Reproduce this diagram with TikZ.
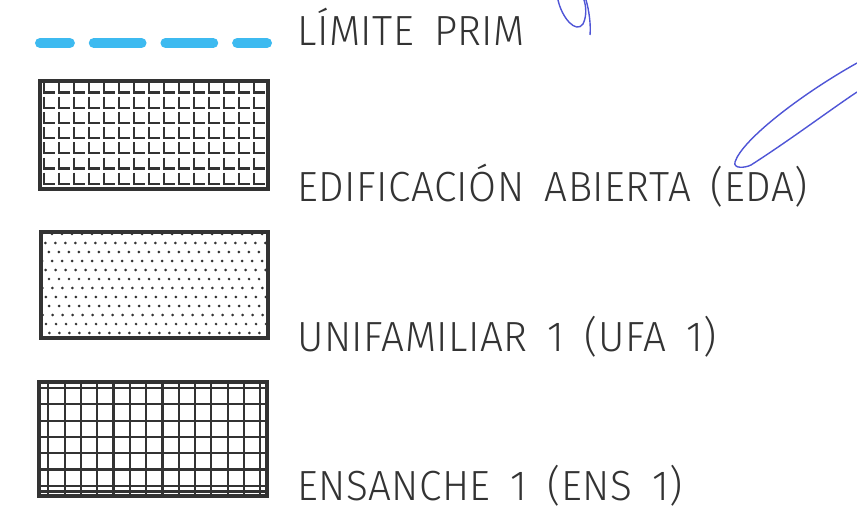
\documentclass[tikz,border=0pt]{standalone}
\usepackage{fontspec}
\newfontfamily\cadfont{Fira Sans Light}[LetterSpace=1.2,WordSpace=1.7,FakeStretch=0.96]
\definecolor{limitblue}{HTML}{3DBAF0}
\definecolor{inkgray}{HTML}{333333}
\definecolor{signblue}{HTML}{4F55D6}
\tikzset{
  legendtext/.style={anchor=base west, inner sep=0pt, text=inkgray,
    font=\cadfont\fontsize{24}{28}\selectfont},
  framebox/.style={draw=inkgray, line width=1.9pt},
  hatchline/.style={draw=inkgray, line width=1.25pt},
  signline/.style={draw=signblue, line width=0.8pt}
}
\begin{document}
\begin{tikzpicture}[x=0.02cm,y=-0.02cm]
		\useasboundingbox (0,0) rectangle (857,517);
		\draw[color=limitblue, line width=5.7pt, line cap=round, dash pattern=on 27.2pt off 13.6pt, dash phase=10.2pt] (40,43)--(267,43);
		\node[legendtext] (limite) at (297,46) {LÍMITE PRIM};
		\begin{scope}
			\clip (40,81) rectangle (268,189);
			\foreach \i in {-1,...,15}
				\foreach \j in {0,...,7}
					\draw[hatchline] ({44+15*\i},{81.5+15.2*\j}) -- ++(0,11) -- ++(11,0);
		\end{scope}
		\draw[framebox] (40,81) rectangle (268,189);
		\node[legendtext] (eda) at (297,201) {EDIFICACIÓN ABIERTA (EDA)};
		\begin{scope}
			\clip (41,232) rectangle (268,338);
			\foreach \i in {-5,...,23}
				\foreach \j in {0,...,11}
					\fill[inkgray] ({42+10*\i+3.4*\j},{234+9*\j}) circle[radius=0.85pt];
		\end{scope}
		\draw[framebox] (41,232) rectangle (268,338);
		\node[legendtext] (ufa) at (297,351) {UNIFAMILIAR 1 (UFA 1)};
		\foreach \i in {0,...,13}
			\draw[hatchline] ({48.3+16.3*\i},382)--({48.3+16.3*\i},496);
		\foreach \y in {388,404.3,420.6,436.9,453.2,469.5,485.8,491.5}
			\draw[hatchline] (39,\y)--(267,\y);
		\draw[framebox] (39,382) rectangle (267,496);
		\node[legendtext] (ens) at (297,500) {ENSANCHE 1 (ENS 1)};
		\draw[signline] (558,0) .. controls (562,18) and (576,34) .. (583,24) .. controls (587,16) and (586,6) .. (584,0);
		\draw[signline] (586,0) .. controls (589,10) and (591,25) .. (590,35);
		\draw[signline] (857,63) .. controls (800,95) and (742,140) .. (735,162) .. controls (733,169) and (745,168) .. (751,165) .. controls (790,140) and (830,110) .. (857,92);
\end{tikzpicture}
\end{document}
